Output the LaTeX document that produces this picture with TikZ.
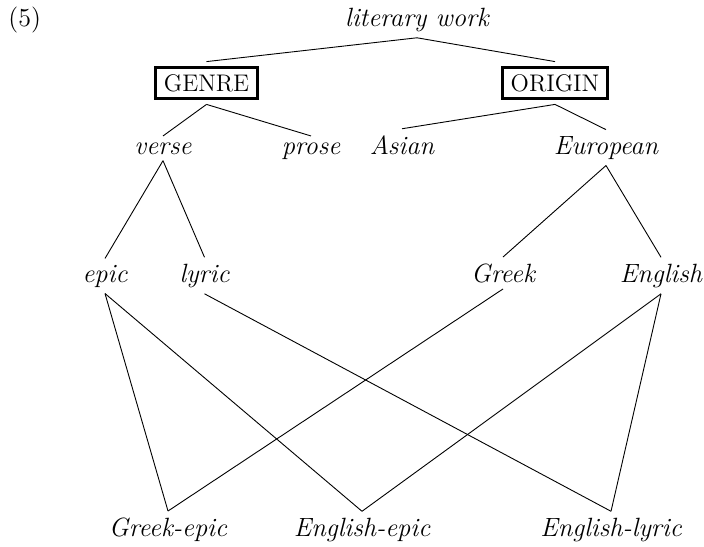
\documentclass[tikz,border=0pt]{standalone}
\usetikzlibrary{positioning}
\newcommand{\lblfont}{\fontsize{13.2}{16}\selectfont\itshape}
\begin{document}
\begin{tikzpicture}[x=0.5pt,y=-0.5pt,
  lbl/.style={font=\lblfont, anchor=base, inner sep=1.2pt, outer sep=2pt},
  dimbox/.style={draw, line width=1.5pt, font=\large, inner xsep=4pt, inner ysep=3.6pt, outer sep=2.75pt},
  edge/.style={line width=0.45pt}]
  \useasboundingbox (0,0) rectangle (704,546);
  \node[anchor=base west, font=\fontsize{13}{16}\selectfont, inner sep=0pt] (num) at (8,26) {(5)};
  \node[lbl] (lw) at (417,26) {literary work};

  \node[dimbox] (genre) at (206.5,83) {GENRE};
  \node[dimbox] (origin) at (555,83) {ORIGIN};

  \node[lbl] (verse) at (163,154) {verse};
  \node[lbl] (prose) at (311,154) {prose};
  \node[lbl] (asian) at (402,154) {Asian};
  \node[lbl] (europ) at (606,154) {European};

  \node[lbl] (epic) at (105,282) {epic};
  \node[lbl] (lyric) at (204.5,282) {lyric};
  \node[lbl] (greek) at (503,282) {Greek};
  \node[lbl] (engl) at (661,282) {English};

  \node[lbl] (grepic) at (168,536) {Greek-epic};
  \node[lbl] (enepic) at (362,536) {English-epic};
  \node[lbl] (enlyr) at (611,536) {English-lyric};

  % upper part
  \draw[edge] (lw.south) -- (genre.north);
  \draw[edge] (lw.south) -- (origin.north);
  \draw[edge] (genre.south) -- (verse.north);
  \draw[edge] (genre.south) -- (prose.north);
  \draw[edge] (origin.south) -- (asian.north);
  \draw[edge] (origin.south) -- (europ.north);
  \draw[edge] (verse.south) -- (epic.north);
  \draw[edge] (verse.south) -- (lyric.north);
  \draw[edge] (europ.south) -- (greek.north);
  \draw[edge] (europ.south) -- (engl.north);

  % crossed classes
  \draw[edge] (epic.south) -- (grepic.north);
  \draw[edge] (greek.south) -- (grepic.north);
  \draw[edge] (epic.south) -- (enepic.north);
  \draw[edge] (engl.south) -- (enepic.north);
  \draw[edge] (lyric.south) -- (enlyr.north);
  \draw[edge] (engl.south) -- (enlyr.north);
\end{tikzpicture}
\end{document}
